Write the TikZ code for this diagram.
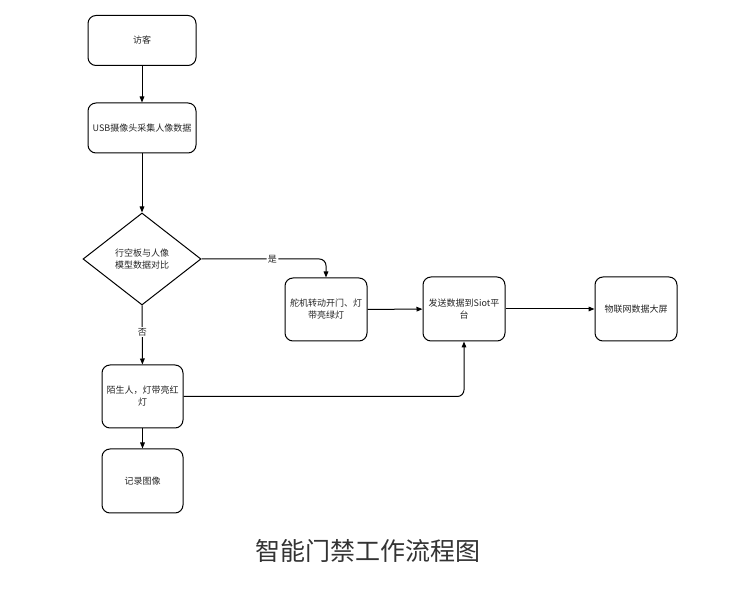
\documentclass[tikz,border=0pt]{standalone}
\usepackage{fontspec}
\setmainfont{Noto Sans CJK SC}
\usetikzlibrary{arrows.meta,shapes.geometric}
\tikzset{
  box/.style={draw=black, line width=0.75pt, rounded corners=6pt, fill=white, align=center, inner sep=1pt, font=\fontsize{6.75pt}{9pt}\selectfont, text=black!85},
  dec/.style={draw=black, line width=0.75pt, diamond, inner sep=0pt, fill=white, align=center, font=\fontsize{6.75pt}{9pt}\selectfont, text=black!85},
  arr/.style={draw=black, line width=0.75pt, -{Triangle[length=4.5pt,width=3.5pt]}},
  lbl/.style={fill=white, inner sep=1pt, font=\fontsize{6.75pt}{9pt}\selectfont, text=black!85},
}
\begin{document}
\begin{tikzpicture}[x=0.75pt,y=-0.75pt]
\useasboundingbox[fill=white] (0,0) rectangle (743,591);
\node[box, minimum width=81pt, minimum height=37.5pt] (b1) at (142,40.5) {访客};
\node[box, minimum width=81pt, minimum height=37.5pt] (b2) at (142,128) {USB摄像头采集人像数据};
\node[dec, minimum width=88.5pt, minimum height=69pt] (d) at (142,259) {行空板与人像\\模型数据对比};
\node[box, minimum width=61.5pt, minimum height=47.25pt] (b3) at (326,309.5) {舵机转动开门、灯\\带亮绿灯};
\node[box, minimum width=61.5pt, minimum height=48pt] (b4) at (464,309) {发送数据到Siot平\\台};
\node[box, minimum width=61.5pt, minimum height=48pt] (b5) at (636,309) {物联网数据大屏};
\node[box, minimum width=60.75pt, minimum height=47.25pt] (b6) at (142.5,396.5) {陌生人，灯带亮红\\灯};
\node[box, minimum width=60.75pt, minimum height=48pt] (b7) at (142.5,481) {记录图像};
\node[font=\fontsize{18.75pt}{22pt}\selectfont, text=black!80] (title) at (368,551) {智能门禁工作流程图};

\draw[arr] (b1) -- (b2);
\draw[arr] (b2) -- (d);
\draw[arr, rounded corners=5pt] (d.east) -| (b3.north) node[lbl, pos=0.285] {是};
\draw[arr] (d) -- (b6) node[lbl, pos=0.45] {否};
\draw[arr] (b3) -- (b4);
\draw[arr] (b4) -- (b5);
\draw[arr] (b6) -- (b7);
\draw[arr, rounded corners=5pt] (b6.east) -| (b4.south);
\end{tikzpicture}
\end{document}
